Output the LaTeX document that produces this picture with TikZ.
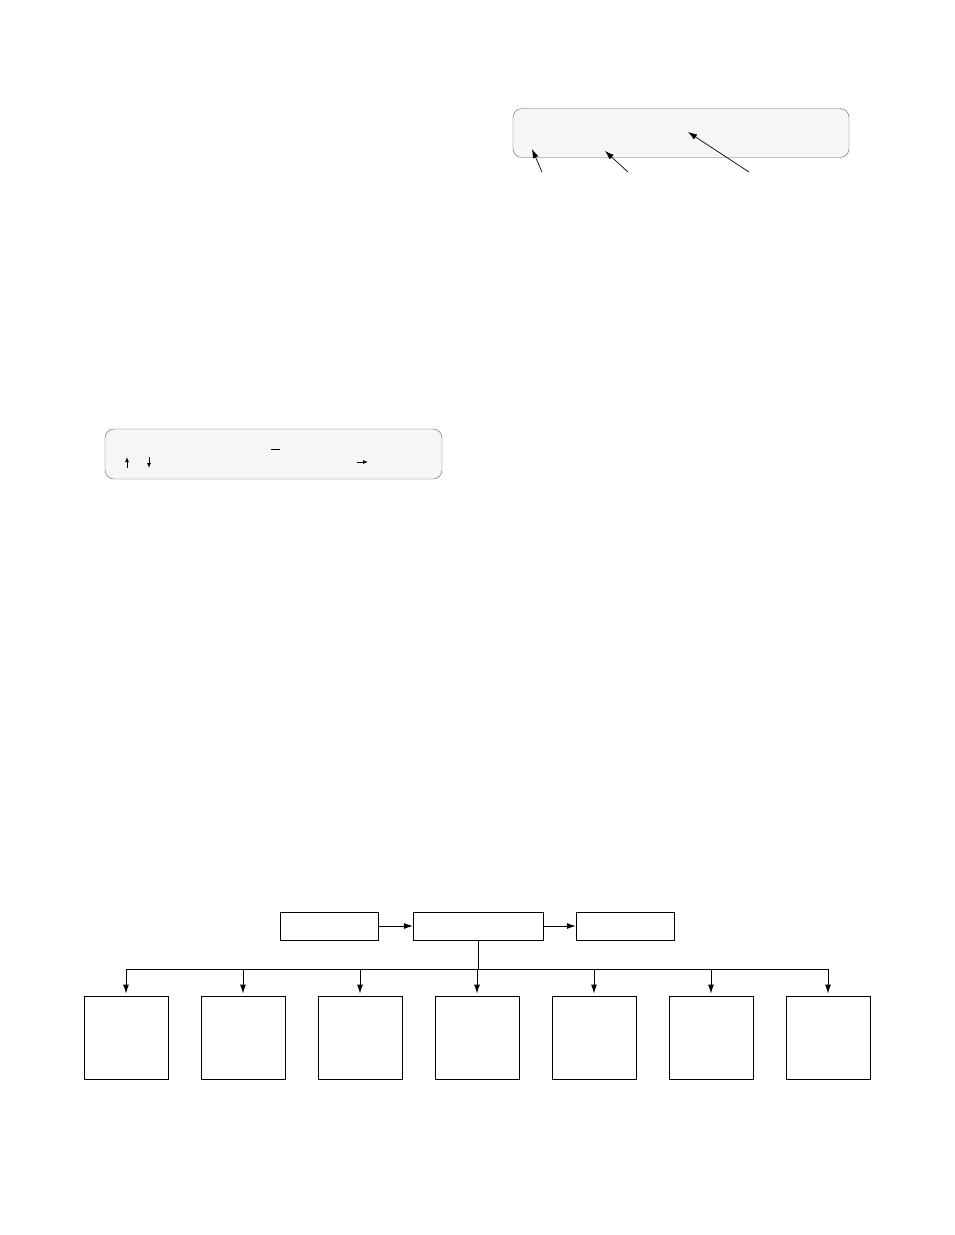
\documentclass[tikz,border=0pt]{standalone}
\usepackage{tikz}
\usetikzlibrary{positioning,arrows.meta}
\tikzset{panel/.style={draw=gray!75!black, fill=gray!7, rounded corners=9pt, minimum width=336pt, minimum height=49pt, inner sep=0pt},
	blockbox/.style={draw, line width=0.9pt, minimum height=28pt, inner sep=0pt},
	unitbox/.style={draw, line width=0.9pt, minimum width=84pt, minimum height=83pt, inner sep=0pt},
	link/.style={line width=0.9pt, -{Latex[length=9pt,width=6pt]}},
	pointer/.style={line width=0.7pt, -{Latex[length=9pt,width=6pt]}},
	tick/.style={line width=0.9pt, -{Latex[length=5pt,width=4pt]}}}

\begin{document}
\begin{tikzpicture}[x=1pt,y=-1pt]
			\useasboundingbox (0,0) rectangle (954,1235);
			\node[panel] (legend) at (681,133) {};
			\coordinate (tailA) at (542,172);
			\coordinate (headA) at (532,149);
			\coordinate (tailB) at (628,172);
			\coordinate (headB) at (605,151);
			\coordinate (tailC) at (749,172);
			\coordinate (headC) at (688,132);
			\draw[pointer] (tailA) -- (headA);
			\draw[pointer] (tailB) -- (headB);
			\draw[pointer] (tailC) -- (headC);
			\node[panel, minimum width=337pt, minimum height=50pt] (keys) at (273.5,454) {};
			\draw[tick] (127,468) -- (127,457);
			\draw[tick] (149,457) -- (149,468);
			\draw[line width=0.9pt] (271,449) -- (280,449);
			\draw[tick] (357,462) -- (368,462);
			\node[blockbox, minimum width=98pt] (src) at (329.5,926) {};
			\node[blockbox, minimum width=130pt, right=34pt of src] (core) {};
			\node[blockbox, minimum width=98pt, right=32pt of core] (sink) {};
			\draw[link] (src) -- (core);
			\draw[link] (core) -- (sink);
			\foreach \i in {1,...,7}
				\node[unitbox] (u\i) at ({126+117*(\i-1)},1037.5) {};
			\coordinate (bus) at (core.south |- 0,969);
			\draw[line width=0.9pt] (core.south) -- (bus);
			\draw[line width=0.9pt] (u1.north |- bus) -- (u7.north |- bus);
			\foreach \i in {1,...,7}
				\draw[link, shorten >=2pt] (u\i.north |- bus) -- (u\i.north);
\end{tikzpicture}
\end{document}
